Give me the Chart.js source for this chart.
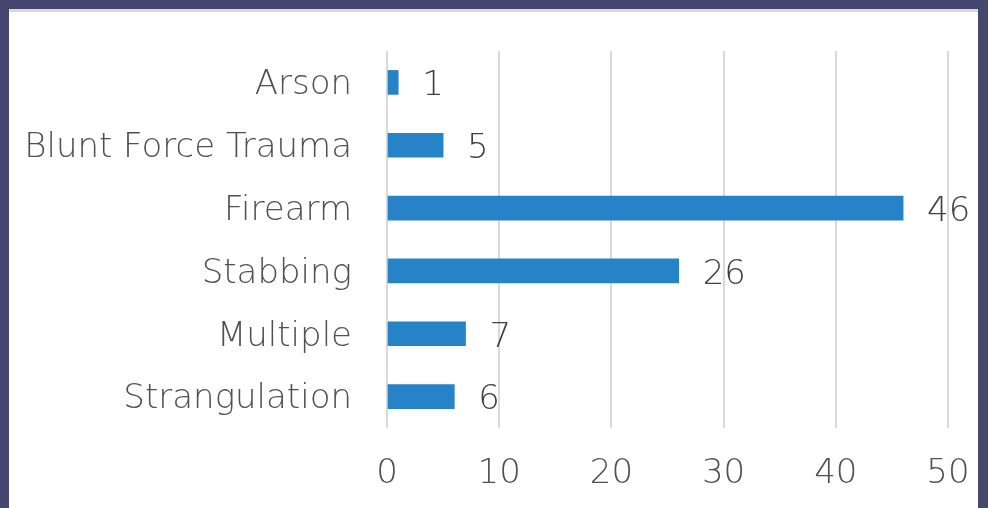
<!DOCTYPE html>
<html>
<head>
<meta charset="utf-8">
<script src="https://cdn.jsdelivr.net/npm/chart.js@4.4.1/dist/chart.umd.min.js"></script>
<style>
  html, body { margin: 0; padding: 0; background: #46476f; width: 988px; height: 508px; overflow: hidden; }
  #frame { position: absolute; left: 9px; top: 9px; width: 969px; height: 499px; background: #ffffff; border-top: 3px solid #d9d9d9; box-sizing: border-box; }
  #wrap { position: absolute; left: 0; top: 0; width: 969px; height: 496px; }
</style>
</head>
<body>
<div id="frame"><div id="wrap"><canvas id="c"></canvas></div></div>
<script>
const categories = ["Arson", "Blunt Force Trauma", "Firearm", "Stabbing", "Multiple", "Strangulation"];
const values = [1, 5, 46, 26, 7, 6];
const xTicks = [0, 10, 20, 30, 40, 50];

const FONT = "'DejaVu Sans', sans-serif";
const TXT = "#505050";
const WEIGHT = 200;
const SIZE = 34;

const valueLabels = {
  id: 'valueLabels',
  afterDatasetsDraw(chart) {
    const ctx = chart.ctx;
    const meta = chart.getDatasetMeta(0);
    ctx.save();
    ctx.font = WEIGHT + " " + SIZE + "px " + FONT;
    ctx.fillStyle = "#404040";
    ctx.textAlign = "left";
    ctx.textBaseline = "middle";
    meta.data.forEach((bar, i) => {
      ctx.fillText(String(values[i]), bar.x + 24, bar.y + 4);
    });
    ctx.restore();
  }
};

new Chart(document.getElementById('c'), {
  type: 'bar',
  data: {
    labels: categories,
    datasets: [{
      data: values,
      backgroundColor: '#2783c7',
      borderWidth: 0,
      barThickness: 24
    }]
  },
  options: {
    indexAxis: 'y',
    responsive: true,
    maintainAspectRatio: false,
    animation: false,
    layout: { padding: { top: 39, right: 30, left: 0, bottom: 0 } },
    plugins: { legend: { display: false }, tooltip: { enabled: false } },
    scales: {
      x: {
        min: 0, max: 50,
        afterBuildTicks(scale) { scale.ticks = xTicks.map(v => ({ value: v })); },
        grid: { color: '#d9d9d9', lineWidth: 2, drawTicks: false },
        border: { display: false },
        ticks: { color: TXT, font: { family: FONT, size: SIZE, weight: WEIGHT }, padding: 26, maxRotation: 0 },
        afterFit(scale) { scale.height = 80; scale.paddingLeft = 0; scale.paddingRight = 0; }
      },
      y: {
        grid: { display: false, drawTicks: false },
        border: { display: false },
        ticks: { color: TXT, font: { family: FONT, size: SIZE, weight: WEIGHT }, padding: 35, labelOffset: 3 },
        afterFit(scale) { scale.width = 378; scale.paddingTop = 0; scale.paddingBottom = 0; }
      }
    }
  },
  plugins: [valueLabels]
});
</script>
</body>
</html>
